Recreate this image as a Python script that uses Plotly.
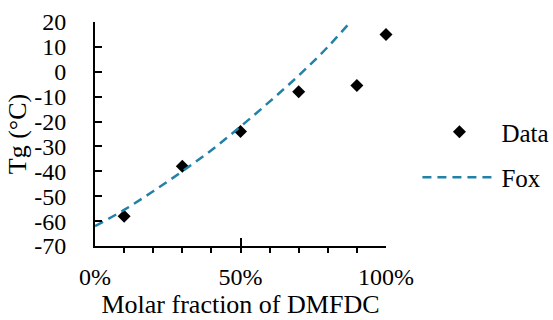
import plotly.graph_objects as go

# Measured data
data_x = [0.1, 0.3, 0.5, 0.7, 0.9, 1.0]
data_y = [-58, -38, -24, -8, -5.5, 15]

# Fox curve
fox_x = [0.0, 0.1, 0.2, 0.3, 0.4, 0.5, 0.6, 0.7, 0.8, 0.9]
fox_y = [-62, -55.5, -48, -40, -31.5, -22, -12, -1.5, 10, 23]

y_tickvals = [20, 10, 0, -10, -20, -30, -40, -50, -60, -70]
y_ticktext = ["20", "10", "0", "-10", "-20", "-30", "-40", "-50", "-60", "-70"]
x_tickvals = [0, 0.5, 1.0]
x_ticktext = ["0%", "50%", "100%"]

FONT = "Liberation Serif, Times New Roman, serif"
BLUE = "#2381a8"

fig = go.Figure()
fig.add_trace(go.Scatter(
    x=data_x, y=data_y, mode="markers", name="Data",
    marker=dict(symbol="diamond", size=10, color="black"),
    legendgroup="a", cliponaxis=False,
))
fig.add_trace(go.Scatter(
    x=fox_x, y=fox_y, mode="lines", name="Fox",
    line=dict(color=BLUE, width=2.5, dash="9px,6px", shape="spline"),
    legendgroup="b",
))

fig.update_layout(
    width=553, height=320,
    margin=dict(l=95, r=167, t=22, b=74, autoexpand=False),
    paper_bgcolor="white", plot_bgcolor="white",
    font=dict(family=FONT, size=24, color="black"),
    showlegend=True,
    legend=dict(
        x=1.108, y=0.408, xanchor="left", yanchor="middle",
        font=dict(size=25, color="black"), itemwidth=74, tracegroupgap=10,
        bgcolor="rgba(0,0,0,0)",
    ),
    xaxis=dict(
        range=[0, 1], showgrid=False, zeroline=False,
        showline=True, linecolor="black", linewidth=2,
        tickvals=x_tickvals, ticktext=x_ticktext,
        ticks="inside", ticklen=8, tickwidth=2, tickcolor="black",
        minor=dict(dtick=0.1, ticks="outside", ticklen=5, tickwidth=2, tickcolor="black"),
        ticklabelstandoff=8, tickfont=dict(size=24),
        title=dict(text="Molar fraction of DMFDC", standoff=5, font=dict(size=26, color="black")),
    ),
    yaxis=dict(
        range=[-70, 20], showgrid=False, zeroline=False,
        showline=True, linecolor="black", linewidth=2,
        tickvals=y_tickvals, ticktext=y_ticktext,
        ticks="inside", ticklen=7, tickwidth=2, tickcolor="black",
        ticklabelstandoff=22, tickfont=dict(size=24),
        title=dict(text="Tg (°C)", standoff=0, font=dict(size=26, color="black")),
    ),
)

fig.write_html("out.html", config={"displayModeBar": False},
               post_script="document.body.style.margin='0';")
